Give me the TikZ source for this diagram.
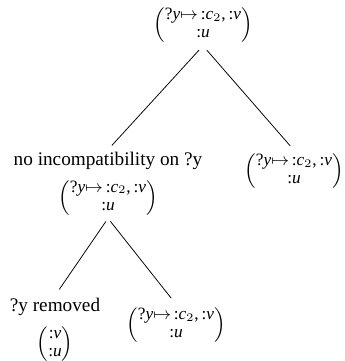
\documentclass[tikz,border=0pt]{standalone}
\usepackage{fontspec}
\setmainfont{Liberation Serif}
\newcommand{\statemat}[2]{$\renewcommand{\arraystretch}{0.8}\left(\begin{array}{@{}c@{}}\mbox{\small #1}\\\mbox{\small #2}\end{array}\right)$}
\newcommand{\bindy}{?\textit{y}$\mapsto$\,:\textit{c}$_2$,\,:\textit{v}}
\tikzset{treenode/.style={align=center, inner sep=1pt}}
\begin{document}
\begin{tikzpicture}[x=0.52pt, y=-0.52pt]
\useasboundingbox (0,0) rectangle (345,361);
\node[treenode] (root) at (203,25) {\statemat{\bindy}{:\textit{u}}};
\node[treenode] (left) at (108,184) {no incompatibility on ?y\\[4pt]\statemat{\bindy}{:\textit{u}}};
\node[treenode] (right) at (294,171) {\statemat{\bindy}{:\textit{u}}};
\node[treenode] (bleft) at (55,330) {?y removed\\[4pt]\statemat{:\textit{v}}{:\textit{u}}};
\node[treenode] (bright) at (176,325) {\statemat{\bindy}{:\textit{u}}};
\draw[shorten <=3pt, shorten >=3pt] (root.south) -- (left.north);
\draw[shorten <=3pt, shorten >=3pt] (root.south) -- (right.north);
\draw[shorten <=2pt, shorten >=4pt] (left.south) -- (bleft.north);
\draw[shorten <=2pt, shorten >=4pt] (left.south) -- (bright.north);
\end{tikzpicture}
\end{document}
